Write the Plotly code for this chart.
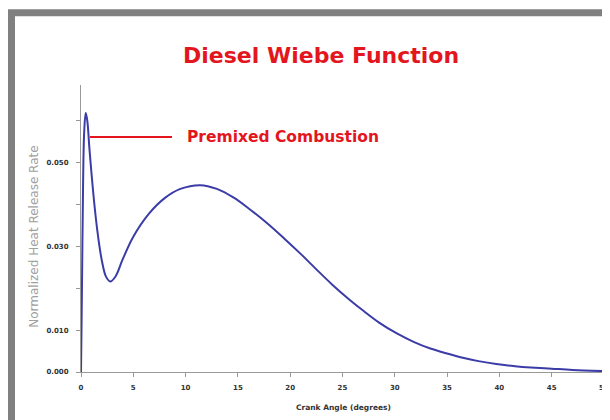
import plotly.graph_objects as go

crank_angle = [0, 0.1, 0.2, 0.3, 0.45, 0.6, 0.8, 1.0, 1.3, 1.6, 2.0, 2.4, 2.8,
               3.3, 4.0, 5.0, 6.5, 8.0, 9.5, 11.4, 13.0, 14.6, 16.0, 17.8,
               19.5, 21.0, 22.5, 24.0, 25.7, 27.0, 28.5, 30.2, 31.8, 33.4,
               35.0, 36.5, 38.0, 39.7, 41.5, 43.0, 45.0, 47.0, 50.0]
heat_release = [0.0, 0.022, 0.045, 0.057, 0.0618, 0.0600, 0.0535, 0.0475, 0.0395,
                0.033, 0.0265, 0.0227, 0.0216, 0.0228, 0.027, 0.0323, 0.0378,
                0.0415, 0.0437, 0.0446, 0.0437, 0.0416, 0.0391, 0.0355,
                0.0317, 0.0282, 0.0245, 0.0209, 0.0172, 0.0146, 0.0118,
                0.0092, 0.0072, 0.0056, 0.0044, 0.0034, 0.0026, 0.0019,
                0.0014, 0.0011, 0.0008, 0.0005, 0.0002]

x_ticks = [0, 5, 10, 15, 20, 25, 30, 35, 40, 45, 50]
y_ticks = [0.0, 0.01, 0.02, 0.03, 0.04, 0.05, 0.06]
y_tick_text = ['0.000', '0.010', '', '0.030', '', '0.050', '']

FONT = 'DejaVu Sans'
RED = '#e3161e'

# the page body adds an 8px offset, so work in page pixels and shift back
OFF = 8
W, H = 610, 420
L, R, T, B = 81 - OFF, W - (607 - OFF), 85 - OFF, H - (372.5 - OFF)

def px(x, y):
    # page pixel position -> paper coords
    x, y = x - OFF, y - OFF
    return (x - L) / (W - L - R), 1 - (y - T) / (H - T - B)

fig = go.Figure()
fig.add_trace(go.Scatter(
    x=crank_angle, y=heat_release,
    mode='lines',
    line=dict(color='#3c3ca8', width=2, shape='spline', smoothing=1.0),
    showlegend=False,
))

# outer grey frame
x0, y0 = px(11.5, 12.5)
x1, y1 = px(660, 470)
fig.add_shape(type='rect', xref='paper', yref='paper',
              x0=x0, y0=y0, x1=x1, y1=y1,
              line=dict(color='#808080', width=7), layer='below')

# right edge of plot area
fig.add_shape(type='line', xref='paper', yref='paper',
              x0=1, y0=0, x1=1, y1=1,
              line=dict(color='#cfcfcf', width=1))

lx0, ly = px(90, 137)
lx1, _ = px(172, 137)
fig.add_shape(type='line', xref='paper', yref='paper',
              x0=lx0, y0=ly, x1=lx1, y1=ly,
              line=dict(color=RED, width=2))

ax, ay = px(185, 137)
fig.add_annotation(text='<b>Premixed Combustion</b>', xref='paper', yref='paper',
                   x=ax, y=ay, xanchor='left', yanchor='middle', showarrow=False,
                   font=dict(family=FONT, size=15.5, color=RED))

tx, ty = px(321, 55)
fig.add_annotation(text='<b>Diesel Wiebe Function</b>', xref='paper', yref='paper',
                   x=tx, y=ty, xanchor='center', yanchor='middle', showarrow=False,
                   font=dict(family=FONT, size=22, color=RED))

xt, yt = px(343, 408)
fig.add_annotation(text='<b>Crank Angle (degrees)</b>', xref='paper', yref='paper',
                   x=xt, y=yt, xanchor='center', yanchor='middle', showarrow=False,
                   font=dict(family=FONT, size=7.5, color='#333'))

xt, yt = px(34, 237)
fig.add_annotation(text='Normalized Heat Release Rate', xref='paper', yref='paper',
                   x=xt, y=yt, xanchor='center', yanchor='middle', showarrow=False,
                   textangle=-90, font=dict(family=FONT, size=12, color='#a0a0a0'))

fig.update_layout(
    width=W, height=H,
    margin=dict(l=L, r=R, t=T, b=B, autoexpand=False),
    paper_bgcolor='white', plot_bgcolor='white',
    font=dict(family=FONT, color='#333'),
    xaxis=dict(
        range=[0, 50.29], tickvals=x_ticks,
        ticktext=['<b>%d</b>' % v for v in x_ticks],
        showgrid=False, zeroline=False, automargin=False,
        showline=True, linecolor='#999', linewidth=1,
        ticks='outside', ticklen=4, tickcolor='#999',
        ticklabelstandoff=5,
        tickfont=dict(size=7, color='#333'),
    ),
    yaxis=dict(
        range=[0, 0.0685], tickvals=y_ticks,
        ticktext=['<b>%s</b>' % t for t in y_tick_text],
        showgrid=False, zeroline=False, automargin=False,
        showline=True, linecolor='#999', linewidth=1,
        ticks='outside', ticklen=4, tickcolor='#999',
        ticklabelstandoff=6,
        tickfont=dict(size=7, color='#333'),
    ),
)

fig.write_html("out.html")
